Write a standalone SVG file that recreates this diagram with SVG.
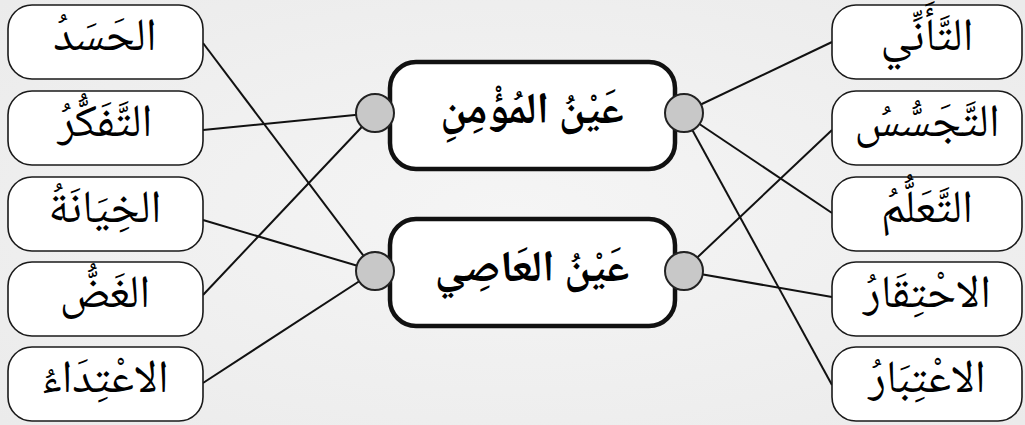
<svg xmlns="http://www.w3.org/2000/svg" width="1025" height="425" viewBox="0 0 1025 425">
<defs>
<radialGradient id="bg" cx="50%" cy="50%" r="70%">
<stop offset="0" stop-color="#f5f5f5"/>
<stop offset="1" stop-color="#ebebeb"/>
</radialGradient>
<style>
.box{fill:#fff;stroke:#1a1a1a;stroke-width:1.6}
.main{fill:#fff;stroke:#111;stroke-width:4.5}
.dot{fill:#c8c8c8;stroke:#222;stroke-width:2}
.lbl{font-family:"Noto Naskh Arabic","Noto Sans Arabic","DejaVu Sans",serif;font-size:46px;fill:#000;text-anchor:middle;dominant-baseline:central}
.mlbl{font-family:"Noto Naskh Arabic","Noto Sans Arabic","DejaVu Sans",serif;font-size:44px;font-weight:bold;fill:#000;text-anchor:middle;dominant-baseline:central}
.con{stroke:#111;stroke-width:2;fill:none}
</style>
</defs>
<rect width="1025" height="425" fill="url(#bg)"/>
<g id="connectors">
<line class="con" x1="203" y1="43" x2="375" y2="271"/>
<line class="con" x1="203" y1="130" x2="375" y2="113"/>
<line class="con" x1="203" y1="220" x2="375" y2="271"/>
<line class="con" x1="203" y1="295" x2="375" y2="113"/>
<line class="con" x1="203" y1="383" x2="375" y2="271"/>
<line class="con" x1="832" y1="42" x2="683" y2="113"/>
<line class="con" x1="832" y1="213" x2="683" y2="113"/>
<line class="con" x1="832" y1="385" x2="683" y2="113"/>
<line class="con" x1="832" y1="130" x2="683" y2="271"/>
<line class="con" x1="832" y1="297" x2="683" y2="271"/>
</g>
<g id="l1"><rect class="box" x="8" y="5" width="195" height="74" rx="24"/><text class="lbl" x="105" y="40">الحَسَدُ</text></g>
<g id="l2"><rect class="box" x="8" y="91" width="195" height="74" rx="24"/><text class="lbl" x="105" y="126">التَّفَكُّرُ</text></g>
<g id="l3"><rect class="box" x="8" y="177" width="195" height="74" rx="24"/><text class="lbl" x="105" y="212">الخِيَانَةُ</text></g>
<g id="l4"><rect class="box" x="8" y="262" width="195" height="74" rx="24"/><text class="lbl" x="105" y="297">الغَضُّ</text></g>
<g id="l5"><rect class="box" x="8" y="347" width="195" height="74" rx="24"/><text class="lbl" x="105" y="382">الاعْتِدَاءُ</text></g>
<g id="r1"><rect class="box" x="832" y="5" width="190" height="74" rx="24"/><text class="lbl" x="927" y="40">التَّأَنِّي</text></g>
<g id="r2"><rect class="box" x="832" y="91" width="190" height="74" rx="24"/><text class="lbl" x="927" y="126">التَّجَسُّسُ</text></g>
<g id="r3"><rect class="box" x="832" y="177" width="190" height="74" rx="24"/><text class="lbl" x="927" y="212">التَّعَلُّمُ</text></g>
<g id="r4"><rect class="box" x="832" y="262" width="190" height="74" rx="24"/><text class="lbl" x="927" y="297">الاحْتِقَارُ</text></g>
<g id="r5"><rect class="box" x="832" y="347" width="190" height="74" rx="24"/><text class="lbl" x="927" y="382">الاعْتِبَارُ</text></g>
<g id="m1"><rect class="main" x="390" y="62" width="285" height="107" rx="26"/><circle class="dot" cx="375" cy="113" r="19"/><circle class="dot" cx="684" cy="113" r="19"/><text class="mlbl" x="532" y="113">عَيْنُ المُؤْمِنِ</text></g>
<g id="m2"><rect class="main" x="390" y="219" width="285" height="107" rx="26"/><circle class="dot" cx="375" cy="271" r="19"/><circle class="dot" cx="684" cy="271" r="19"/><text class="mlbl" x="532" y="271">عَيْنُ العَاصِي</text></g>
</svg>
